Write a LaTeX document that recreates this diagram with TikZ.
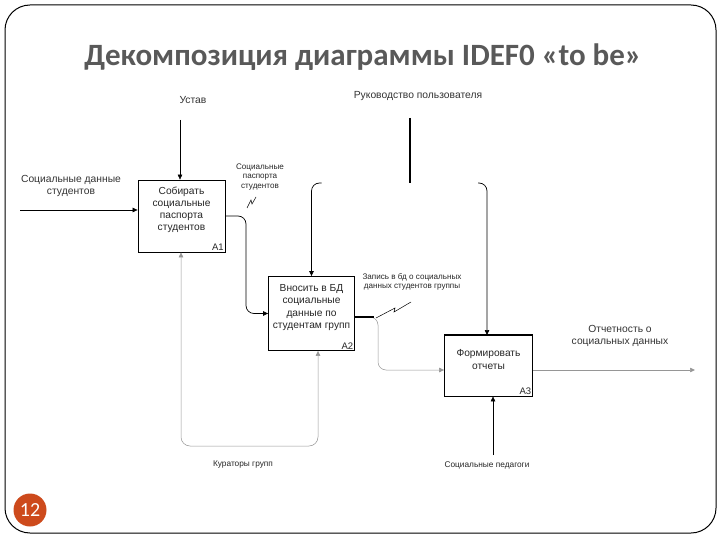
\documentclass[tikz,border=0pt]{standalone}
\usepackage{fontspec}
\setmainfont{Liberation Sans}
\newfontfamily\titlefont{Carlito}
\usetikzlibrary{arrows.meta,positioning,calc}

\definecolor{titlegray}{RGB}{89,89,89}
\definecolor{numorange}{RGB}{205,74,28}
\definecolor{linegray}{RGB}{150,150,150}

\tikzset{
  func/.style={draw, line width=0.8pt, inner sep=0pt},
  boxtxt/.style={font=\fontsize{10.2}{12.2}\selectfont, align=center, text=black!85},
  boxnum/.style={font=\fontsize{9.5}{10}\selectfont, anchor=south east, inner sep=1.5pt, text=black!85},
  lbl/.style={font=\fontsize{10.3}{11.5}\selectfont, align=center, text=black!80},
  small/.style={font=\fontsize{8.1}{9.2}\selectfont, align=center, text=black!85},
  arr/.style={-{Triangle[length=5pt,width=4.5pt]}, line width=0.7pt},
  faint/.style={draw=linegray, line width=0.5pt},
}

\begin{document}
\begin{tikzpicture}[x=1pt,y=1pt,yscale=-1]
  \useasboundingbox (0,0) rectangle (720,540);
  % slide frame
  \draw[line width=1pt, rounded corners=25pt] (5,5) rectangle (716,533);
  \node[font=\titlefont\bfseries\fontsize{31}{34}\selectfont, text=titlegray] (title) at (363,57) {Декомпозиция диаграммы IDEF0 «to be»};
  \node[circle, fill=numorange, minimum size=33pt, inner sep=0pt, text=white,
        font=\titlefont\fontsize{20}{20}\selectfont] (pnum) at (30,510) {12};

  % function boxes
  \node[func, minimum width=87pt, minimum height=72pt] (A1) at (181.5,216) {};
  \node[func, minimum width=86pt, minimum height=74pt] (A2) at (311.5,313.5) {};
  \node[func, minimum width=88pt, minimum height=61pt] (A3) at (488.5,365.5) {};
  \draw[line width=1.4pt] (A3.north west) -- (A3.north east);

  \node[boxtxt] (A1t) at ([yshift=-6pt]A1.center) {Собирать\\социальные\\паспорта\\студентов};
  \node[boxtxt] (A2t) at ([yshift=-6pt]A2.center) {Вносить в БД\\социальные\\данные по\\студентам групп};
  \node[boxtxt] (A3t) at ([yshift=-6pt]A3.center) {Формировать\\отчеты};
  \node[boxnum] (A1n) at (A1.south east) {A1};
  \node[boxnum] (A2n) at (A2.south east) {A2};
  \node[boxnum] (A3n) at (A3.south east) {A3};

  % labels
  \node[lbl] (ustav) at (193,100) {Устав};
  \node[lbl] (guide) at (418,96) {Руководство пользователя};
  \node[lbl] (indata) at (71,186) {Социальные данные\\студентов};
  \node[small] (pasp) at (260,177) {Социальные\\паспорта\\студентов};
  \node[small] (zap) at (412,282) {Запись в бд о социальных\\данных студентов группы};
  \node[lbl] (otch) at (620,336) {Отчетность о\\социальных данных};
  \node[small, font=\fontsize{8.3}{9.5}\selectfont] (kur) at (243,465) {Кураторы групп};
  \node[small, font=\fontsize{8.3}{9.5}\selectfont] (ped) at (487,465) {Социальные педагоги};

  % free ends
  \coordinate (in1) at (20,210);
  \coordinate (ctl1) at (180,120);
  \coordinate (ctl2) at (410,118);
  \coordinate (j) at (410,183);
  \coordinate (out3) at (695,370);
  \coordinate (mech3) at (493,455);

  % inputs and controls
  \draw[arr] (in1) -- (A1.west |- in1);
  \draw[arr, line width=0.5pt] (ctl1) -- (ctl1 |- A1.north);
  \draw[line width=1.3pt] (ctl2) -- (j);
  \draw[arr, rounded corners=8pt] ($(A2.north |- j)+(10,0)$) -- (A2.north |- j) -- (A2.north);
  \draw[arr, rounded corners=8pt] (478,183) -- (487,183) -- (487,335);

  % A1 -> A2
  \draw[arr, rounded corners=8pt] (A1.east) -- (246,216) -- (246,313.5) -- (A2.west);
  \draw[line width=0.5pt] (247,208) -- (251,200) -- (252,204) -- (256,197);

  % A2 -> A3
  \draw[arr, faint, rounded corners=8pt] ([yshift=3.5pt]A2.east) -- (378,317) -- (378,370) -- ([yshift=4.5pt]A3.west);
  \draw[line width=1.3pt] ([yshift=3.5pt]A2.east) -- (374,317);
  \draw[line width=0.5pt] (376,318) -- (395,308) -- (394,312) -- (411,302);

  % A3 output
  \draw[arr, faint] ([yshift=4.5pt]A3.east) -- (out3);

  % mechanisms
  \draw[arr, line width=0.5pt] (mech3) -- (mech3 |- A3.south);
  \draw[faint, {Triangle[length=5pt,width=4.5pt]}-{Triangle[length=5pt,width=4.5pt]}, rounded corners=9pt]
    ([xshift=-0.5pt]A1.south) -- (181,446) -- (318,446) -- ([xshift=6.5pt]A2.south);
\end{tikzpicture}
\end{document}
